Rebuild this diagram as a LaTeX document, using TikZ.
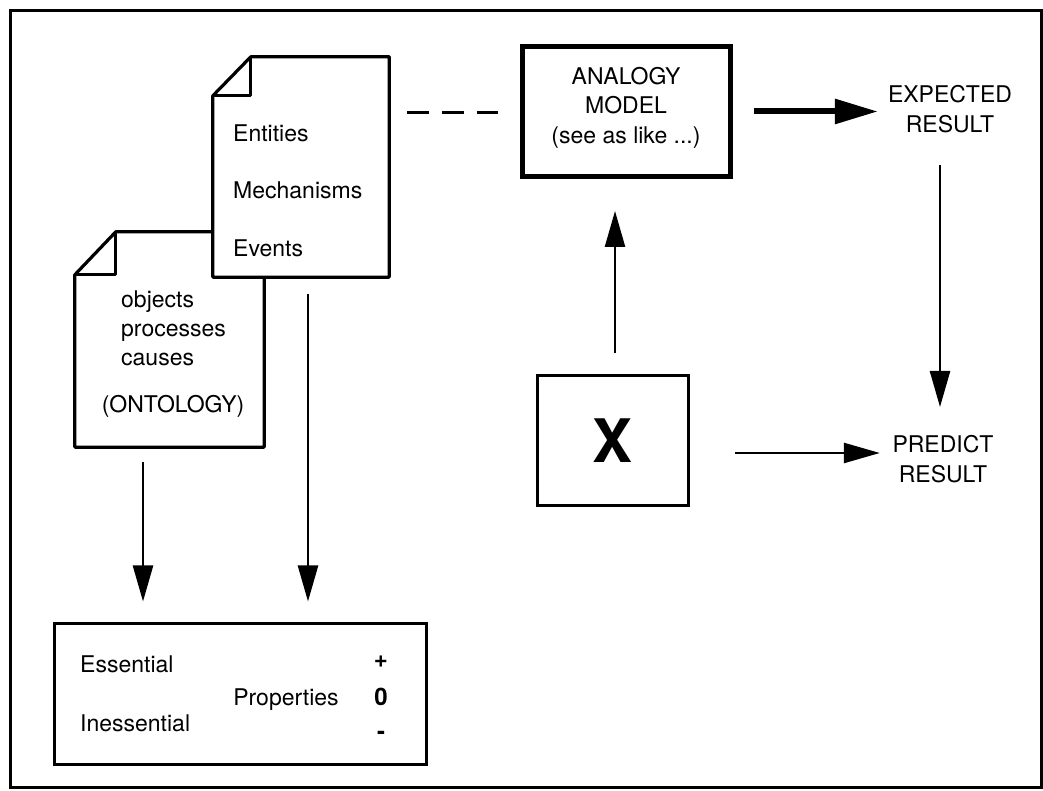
\documentclass[tikz,border=0pt]{standalone}
\usepackage{fontspec}
\setmainfont{TeX Gyre Heros}
\usetikzlibrary{arrows.meta}
\begin{document}
\begin{tikzpicture}[x=1pt,y=1pt,
  txt/.style={font=\fontsize{23}{30}\selectfont, inner sep=0pt},
  sym/.style={inner sep=0pt, anchor=base, font=\bfseries\fontsize{24}{30}\selectfont},
  docline/.style={line width=3.2pt, line join=round},
  boxline/.style={draw, line width=3pt, inner sep=0pt},
  arr/.style={line width=2.5pt, -{Triangle[length=36pt,width=20pt]}},
  thickarr/.style={line width=6pt, -{Triangle[length=43pt,width=24pt]}},
]
\useasboundingbox (0,0) rectangle (1043,791);
\draw[line width=3pt] (10,3) rectangle (1041,780);

% back document (ontology)
\node[minimum width=189pt, minimum height=215pt, inner sep=0pt] (back) at (169.5,451.5) {};
\draw[docline, fill=white] (back.south west) -- (back.south east) -- (back.north east)
  -- ([xshift=41pt]back.north west) -- ([yshift=-43pt]back.north west) -- cycle;
\draw[docline] ([xshift=41pt]back.north west) -- ([xshift=41pt,yshift=-43pt]back.north west)
  -- ([yshift=-43pt]back.north west);

% front document
\node[minimum width=176pt, minimum height=220pt, inner sep=0pt] (front) at (301,624) {};
\draw[docline, fill=white] (front.south west) -- (front.south east) -- (front.north east)
  -- ([xshift=38pt]front.north west) -- ([yshift=-39pt]front.north west) -- cycle;
\draw[docline] ([xshift=38pt]front.north west) -- ([xshift=38pt,yshift=-39pt]front.north west)
  -- ([yshift=-39pt]front.north west);

\node[txt, anchor=base west] (tent) at (233,649) {Entities};
\node[txt, anchor=base west] (tmech) at (233,592) {Mechanisms};
\node[txt, anchor=base west] (tev) at (233,534) {Events};

\node[txt, anchor=base west] (tobj) at (121,483) {objects};
\node[txt, anchor=base west] (tproc) at (121,454) {processes};
\node[txt, anchor=base west] (tcaus) at (121,425) {causes};
\node[txt, anchor=base] (tont) at (173,378) {(ONTOLOGY)};

% analogy model
\node[draw, line width=5pt, minimum width=208pt, minimum height=130pt, inner sep=0pt] (analogy) at (626.5,679.5) {};
\node[txt, anchor=base] (tana) at (626,706) {ANALOGY};
\node[txt, anchor=base] (tmod) at (626,677) {MODEL};
\node[txt, anchor=base] (tsee) at (626,647) {(see as like ...)};

% X box
\node[boxline, minimum width=151pt, minimum height=130pt, font=\bfseries\fontsize{60}{60}\selectfont] (xbox) at (613,350.5) {X};

% results
\node[txt, align=center] (expected) at (950,682) {EXPECTED\\RESULT};
\node[txt, align=center] (predict) at (943,332) {PREDICT\\RESULT};

% properties box
\node[boxline, minimum width=372pt, minimum height=141pt] (props) at (240.5,97) {};
\node[txt, anchor=base west] (tess) at (80,118) {Essential};
\node[txt, anchor=base west] (tiness) at (80,59) {Inessential};
\node[txt, anchor=base] (tprop) at (286,85) {Properties};
\node[sym] (tplus) at (381,123) {+};
\node[sym] (tzero) at (381,85) {0};
\node[sym] (tminus) at (381,51) {-};

% connectors
\draw[line width=3pt, dash pattern=on 22pt off 13pt, shorten <=18pt, shorten >=22pt]
  ([yshift=54pt]front.east) -- ([yshift=54pt]front.east -| analogy.west);
\draw[thickarr, shorten <=21pt, shorten >=10pt] (analogy.east) -- (analogy.east -| expected.west);

\coordinate (dtop) at ([xshift=-10pt]expected.south);
\draw[arr, shorten <=32pt, shorten >=28pt] (dtop) -- (dtop |- predict.north);

\coordinate (xup) at ([xshift=2pt]xbox.north);
\draw[arr, shorten <=20.5pt, shorten >=32pt] (xup) -- (xup |- analogy.south);

\coordinate (xr) at ([yshift=-12.5pt]xbox.east);
\draw[arr, shorten <=45pt, shorten >=12.5pt] (xr) -- (xr -| predict.west);

\coordinate (ba) at ([xshift=-26.5pt]back.south);
\draw[arr, shorten <=15pt, shorten >=20.5pt] (ba) -- (ba |- props.north);
\coordinate (fa) at ([xshift=7pt]front.south);
\draw[arr, shorten <=17pt, shorten >=20.5pt] (fa) -- (fa |- props.north);
\end{tikzpicture}
\end{document}
